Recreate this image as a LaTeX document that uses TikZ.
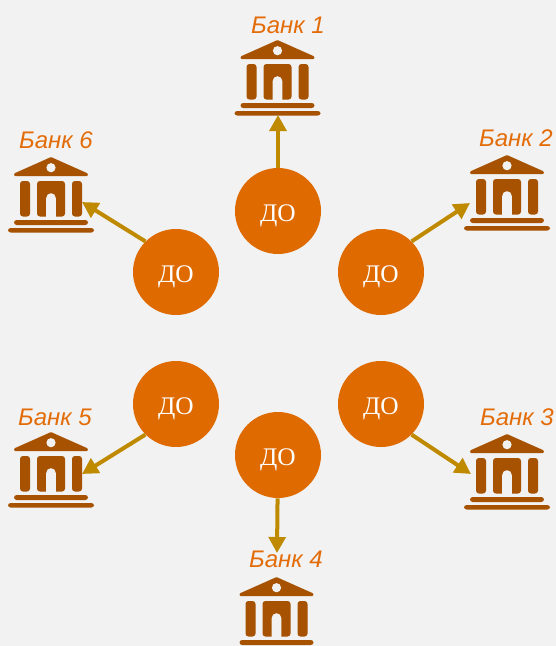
\documentclass[tikz,border=0pt]{standalone}
\usepackage{fontspec}
\setmainfont{Liberation Serif}
\newfontfamily\labelfont{Liberation Sans}
\usepackage{xcolor}
\usetikzlibrary{arrows.meta,positioning}
\definecolor{bgcol}{HTML}{F2F2F2}
\definecolor{docol}{HTML}{DE6A00}
\definecolor{bankcol}{HTML}{A65200}
\definecolor{linkcol}{HTML}{BF8A00}
\definecolor{textcol}{HTML}{E36C09}
\tikzset{
  dept/.style={circle, fill=docol, text=white, inner sep=0pt, minimum size=64.5pt, text height=16pt, text depth=0pt, font=\fontsize{19}{21}\selectfont},
  banklabel/.style={text=textcol, inner sep=0pt, font=\labelfont\itshape\fontsize{18}{20}\selectfont},
  line/.style={-{Triangle[length=12pt,width=12.5pt]}, line width=3pt, linkcol},
  bankicon/.pic={
    \filldraw[bankcol, line width=2.4pt, line join=round] (0,1.8) -- (35.5,17.6) -- (-35.5,17.6) -- cycle;
    \fill[bgcol] (0,10.7) circle (4.6);
    \fill[bankcol, rounded corners=2.2pt] (-31,24) rectangle (-21,59.5);
    \fill[bankcol, rounded corners=2.2pt] (21,24) rectangle (31,59.5);
    \fill[bankcol, rounded corners=2.2pt] (-14,24) rectangle (14,59.5);
    \fill[bgcol] (-4.8,60) -- (-4.8,41) arc[start angle=180, end angle=360, radius=4.8] -- (4.8,60) -- cycle;
    \fill[bankcol, rounded corners=2pt] (-37,63) rectangle (37,68);
    \fill[bankcol, rounded corners=2pt] (-43,71) rectangle (43,75.5);
  }
}
\begin{document}
\begin{tikzpicture}[x=0.75pt, y=-0.75pt]
  \fill[bgcol] (0,0) rectangle (556,646);
  \useasboundingbox (0,0) rectangle (556,646);
  % departments
  \node[dept] (do1) at (278,211) {ДО};
  \node[dept] (do2) at (381,272) {ДО};
  \node[dept] (do3) at (381,404) {ДО};
  \node[dept] (do4) at (278,455) {ДО};
  \node[dept] (do5) at (176,404) {ДО};
  \node[dept] (do6) at (176,272) {ДО};
  % banks
  \pic at (277.5,40) {bankicon};
  \pic at (507,155) {bankicon};
  \pic at (507,434) {bankicon};
  \pic at (276.5,577) {bankicon};
  \pic at (51,157) {bankicon};
  \pic at (51,432) {bankicon};
  \node[banklabel] (bank1) at (288,25) {Банк 1};
  \node[banklabel] (bank2) at (516,138) {Банк 2};
  \node[banklabel] (bank3) at (517,417) {Банк 3};
  \node[banklabel] (bank4) at (286,559) {Банк 4};
  \node[banklabel] (bank5) at (55,417) {Банк 5};
  \node[banklabel] (bank6) at (56,140) {Банк 6};
  % arrow ends
  \coordinate (tip1) at (278,115);
  \coordinate (tip2) at (470,203);
  \coordinate (tip3) at (471,474);
  \coordinate (tip4) at (277,553);
  \coordinate (tip5) at (82,474);
  \coordinate (tip6) at (82,202);
  \draw[line] (do1) -- (tip1);
  \draw[line] (do2.45) -- (tip2);
  \draw[line] (do3.-45) -- (tip3);
  \draw[line] (do4) -- (tip4);
  \draw[line] (do5.-135) -- (tip5);
  \draw[line] (do6.135) -- (tip6);
\end{tikzpicture}
\end{document}
